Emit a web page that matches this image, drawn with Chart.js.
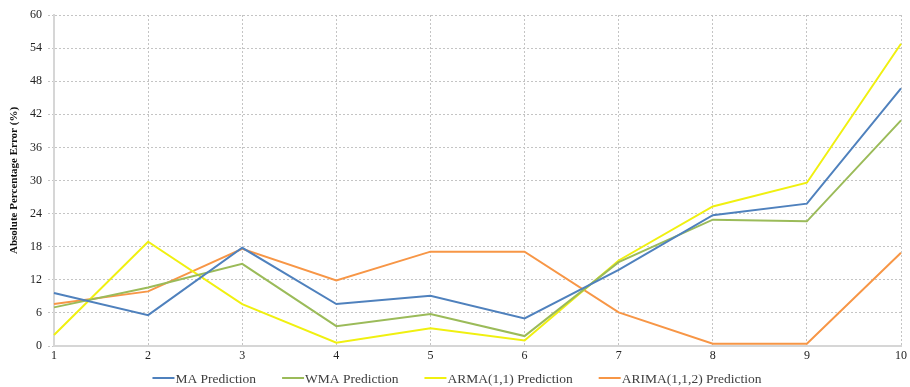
<!DOCTYPE html>
<html>
<head>
<meta charset="utf-8">
<script src="https://cdn.jsdelivr.net/npm/chart.js@4.4.1/dist/chart.umd.min.js"></script>
<style>
  html, body { margin: 0; padding: 0; background: #ffffff; }
  #wrap { width: 910px; height: 387px; position: relative; }
</style>
</head>
<body>
<div id="wrap"><canvas id="chart" width="910" height="387"></canvas></div>
<script>
// Forecast horizon (step number)
const steps = ['1', '2', '3', '4', '5', '6', '7', '8', '9', '10'];

// Absolute percentage error (%) of each forecasting model
const maError    = [9.6, 5.6, 17.8, 7.6, 9.1, 5.0, 13.8, 23.7, 25.8, 46.7];
const wmaError   = [7.0, 10.6, 14.9, 3.6, 5.8, 1.8, 15.2, 22.9, 22.6, 40.9];
const armaError  = [2.0, 18.9, 7.6, 0.6, 3.2, 1.0, 15.5, 25.3, 29.6, 54.8];
const arimaError = [7.6, 9.9, 17.6, 11.9, 17.1, 17.1, 6.1, 0.4, 0.4, 16.9];

const seriesNames = ['MA Prediction', 'WMA Prediction', 'ARMA(1,1) Prediction', 'ARIMA(1,1,2) Prediction'];
const seriesColors = ['#4f81bd', '#9bbb59', '#f0f010', '#f79646'];

const yTicks = [0, 6, 12, 18, 24, 30, 36, 42, 48, 54, 60];

const serif = '"Liberation Serif", "Times New Roman", serif';

const datasets = [maError, wmaError, armaError, arimaError].map((vals, i) => ({
  label: seriesNames[i],
  data: vals,
  borderColor: seriesColors[i],
  backgroundColor: seriesColors[i],
  borderWidth: 2,
  pointRadius: 0,
  pointHoverRadius: 0,
  tension: 0,
  fill: false
}));

// Bottom legend: short coloured line followed by the series name
const lineLegend = {
  id: 'lineLegend',
  afterDraw(chart) {
    const ctx = chart.ctx;
    const y = 378;
    const swatch = 22, gapText = 1, gapItem = 26;
    ctx.save();
    ctx.font = '13.5px ' + serif;
    ctx.textBaseline = 'middle';
    ctx.textAlign = 'left';
    const widths = chart.data.datasets.map(d => ctx.measureText(d.label).width);
    const total = widths.reduce((a, w) => a + swatch + gapText + w, 0) + gapItem * (widths.length - 1);
    let x = (chart.width - total) / 2 + 2;
    chart.data.datasets.forEach((d, i) => {
      ctx.strokeStyle = d.borderColor;
      ctx.lineWidth = 2;
      ctx.beginPath();
      ctx.moveTo(x, y);
      ctx.lineTo(x + swatch, y);
      ctx.stroke();
      x += swatch + gapText;
      ctx.fillStyle = '#404040';
      ctx.fillText(d.label, x, y + 1);
      x += widths[i] + gapItem;
    });
    ctx.restore();
  }
};

new Chart(document.getElementById('chart'), {
  type: 'line',
  data: { labels: steps, datasets },
  options: {
    responsive: false,
    animation: false,
    events: [],
    layout: { padding: { top: 15, right: 6, left: 8, bottom: 19 } },
    plugins: {
      tooltip: { enabled: false },
      legend: { display: false }
    },
    scales: {
      x: {
        type: 'category',
        offset: false,
        afterFit: (s) => { s.height = 22; },
        grid: {
          color: '#c4c4c4',
          lineWidth: 1,
          drawTicks: false
        },
        border: { display: true, color: '#d6d6d6', width: 2, dash: [2, 2] },
        ticks: {
          padding: 3,
          color: '#222222',
          font: { family: serif, size: 12 },
          maxRotation: 0
        }
      },
      y: {
        min: 0,
        max: 60,
        afterFit: (s) => { s.width = 46; },
        afterBuildTicks: (s) => { s.ticks = yTicks.map(v => ({ value: v })); },
        grid: {
          color: '#c4c4c4',
          lineWidth: 1,
          tickLength: 6,
          tickBorderDash: [2, 2]
        },
        border: { display: true, color: '#d6d6d6', width: 2, dash: [2, 2] },
        ticks: {
          padding: 6,
          color: '#222222',
          font: { family: serif, size: 12 }
        },
        title: {
          display: true,
          text: 'Absolute Percentage Error (%)',
          color: '#111111',
          font: { family: serif, size: 11, weight: 'bold' },
          padding: { top: 0, bottom: 0 }
        }
      }
    }
  },
  plugins: [lineLegend]
});
</script>
</body>
</html>
